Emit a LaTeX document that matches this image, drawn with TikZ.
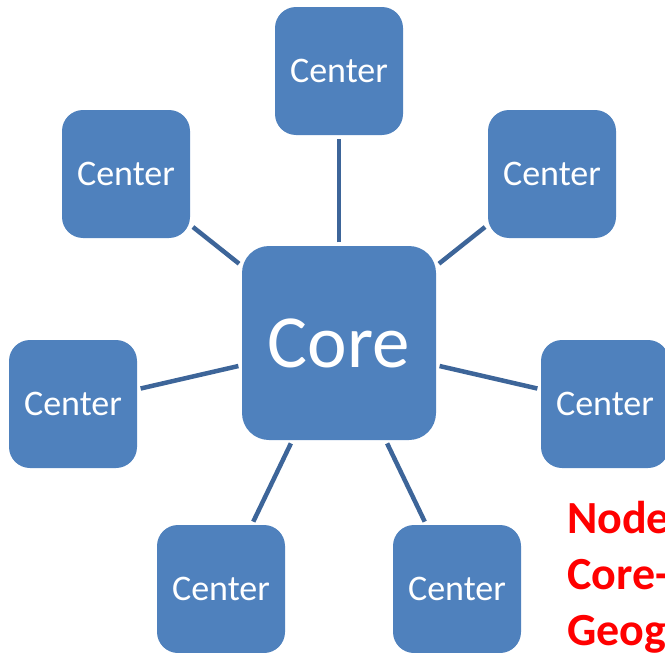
\documentclass[tikz,border=0pt]{standalone}
\usepackage{fontspec}
\setmainfont{Carlito}
\usepackage{xcolor}
\definecolor{boxblue}{HTML}{4F81BD}
\definecolor{lineblue}{HTML}{3D6599}
\definecolor{red}{HTML}{FF0000}
\tikzstyle{node}=[rounded corners=21, inner sep=0, fill=boxblue, text=white]
\tikzstyle{node center}=[node, minimum size=128, font=\fontsize{36}{40}\selectfont]
\tikzstyle{node core}=[node, rounded corners=27, minimum size=194, font=\fontsize{75}{80}\selectfont]
\tikzstyle{connect}=[line width=4.5, lineblue, shorten >=3.5, shorten <=3.5]

\begin{document}
\begin{tikzpicture}[x=1pt, y=-1pt]
      \useasboundingbox (0, 0) rectangle (665, 653);
      \clip (0, 0) rectangle (665, 653);

      % CORE
      \node[node core] (core) at (339, 343) {Core};

      % CENTERS ROUND THE CORE
      \foreach \name/\x/\y in {top/339/71, topleft/126/174, topright/552/174,
                               left/73/404, right/605/404,
                               botleft/221/589, botright/457/589}{  % loop over boxes
        \node[node center] (C-\name) at (\x, \y) {Center};
        \draw[connect] (core) -- (C-\name);
      }

      % CAPTION (base is the last line)
      \node[anchor=base west, align=left, red, inner sep=0,
            font=\bfseries\fontsize{46}{56}\selectfont] (caption) at (567, 645)
        {Node\\Core-\\Geog};
    \end{tikzpicture}
\end{document}
